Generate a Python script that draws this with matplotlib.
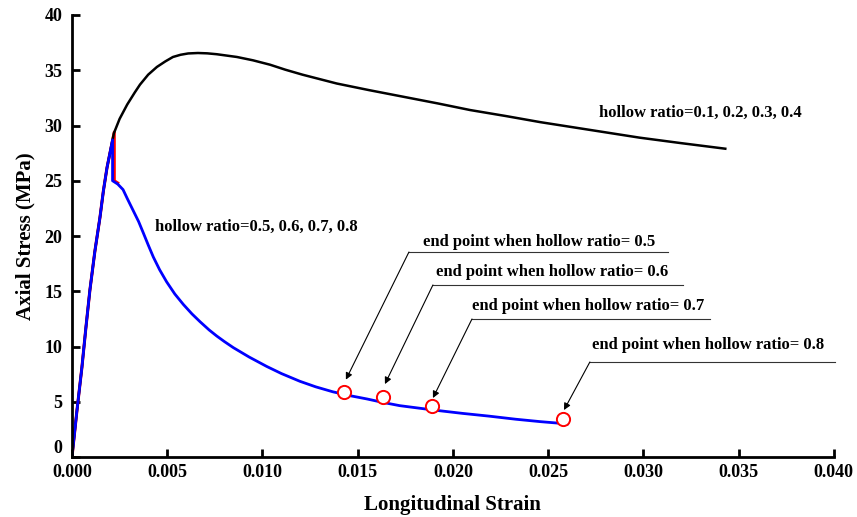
import matplotlib
matplotlib.use('Agg')
import matplotlib.pyplot as plt

# hollow ratio 0.1-0.4 (black)
strain_a = [0, 0.00026, 0.00052, 0.00073, 0.00094, 0.0012, 0.00147, 0.00165, 0.00184,
            0.0022, 0.0025, 0.0029, 0.0033, 0.00357, 0.0040, 0.00446, 0.0049,
            0.0053, 0.0057, 0.0061, 0.00661, 0.0071, 0.0076, 0.00866, 0.0095, 0.0104,
            0.0112, 0.0121, 0.0130, 0.0139, 0.0156, 0.0174, 0.0192, 0.0209, 0.0228,
            0.0246, 0.0272, 0.0298, 0.0320, 0.0343]
stress_a = [0, 4.2, 8.1, 11.7, 15.1, 18.6, 21.7, 24.1, 26.2,
            29.3, 30.6, 31.9, 33.0, 33.7, 34.6, 35.3, 35.8,
            36.2, 36.4, 36.52, 36.56, 36.53, 36.45, 36.2, 35.9, 35.5,
            35.05, 34.6, 34.2, 33.8, 33.2, 32.6, 32.0, 31.4, 30.85,
            30.3, 29.6, 28.9, 28.4, 27.9]

# transition curve (red)
strain_r = [0, 0.00026, 0.00052, 0.00073, 0.00094, 0.0012, 0.00147, 0.00165, 0.00184,
            0.00222, 0.00222, 0.0024]
stress_r = [0, 4.2, 8.1, 11.7, 15.1, 18.6, 21.7, 24.1, 26.2,
            29.4, 25.0, 24.8]

# hollow ratio 0.5-0.8 (blue)
strain_b = [0, 0.00026, 0.00052, 0.00073, 0.00094, 0.0012, 0.00147, 0.00165, 0.00184,
            0.00213, 0.00213, 0.0024, 0.00268, 0.0029, 0.0032, 0.0035, 0.00374, 0.0040,
            0.00427, 0.0046, 0.00497, 0.0054, 0.00585, 0.0063, 0.00672, 0.0072, 0.0076,
            0.0080, 0.00847, 0.0093, 0.01022, 0.0110, 0.01197, 0.0128, 0.0137, 0.0146,
            0.0155, 0.0163, 0.0172, 0.0181, 0.019, 0.0205, 0.0219, 0.0233, 0.0246, 0.026]
stress_b = [0, 4.2, 8.1, 11.7, 15.1, 18.6, 21.7, 24.1, 26.2,
            28.7, 25.0, 24.7, 24.2, 23.4, 22.35, 21.3, 20.3, 19.2,
            18.1, 16.95, 15.85, 14.75, 13.8, 12.95, 12.25, 11.5, 10.95,
            10.45, 9.9, 9.05, 8.2, 7.55, 6.85, 6.35, 5.9, 5.55,
            5.25, 4.95, 4.65, 4.45, 4.25, 3.95, 3.7, 3.42, 3.2, 3.0]

# end points
end_ratio = ['0.5', '0.6', '0.7', '0.8']
end_x = [0.01428, 0.01633, 0.0189, 0.02577]
end_y = [5.9, 5.4, 4.6, 3.45]

# annotation leader lines: arrow tip, elbow, line end, text centre
tip_x = [0.01438, 0.01643, 0.01895, 0.02583]
tip_y = [7.0, 6.6, 5.34, 4.25]
elbow_x = [0.01769, 0.01895, 0.0210, 0.02719]
elbow_y = [18.55, 15.57, 12.49, 8.6]
line_end_x = [0.03129, 0.03207, 0.03349, 0.04005]
text_x = [0.02451, 0.02520, 0.02710, 0.03340]
text_y = [19.5, 16.7, 13.7, 10.1]

plt.rcParams['font.family'] = ['Liberation Serif', 'DejaVu Serif']
plt.rcParams['font.weight'] = 'bold'

fig = plt.figure(figsize=(8.57, 5.17), dpi=100)
ax = fig.add_axes([0.084, 0.116, 0.889, 0.855])

ax.plot(strain_r, stress_r, color='red', lw=2.2)
ax.plot(strain_a, stress_a, color='black', lw=1.8)
ax.plot(strain_b, stress_b, color='blue', lw=2.0)
ax.plot(end_x, end_y, 'o', mfc='white', mec='red', ms=9.5, mew=1.4, zorder=5)

for i in range(4):
    ax.annotate('', xy=(tip_x[i], tip_y[i]), xytext=(elbow_x[i], elbow_y[i]),
                arrowprops=dict(arrowstyle='-|>', color='black', lw=0.8,
                                mutation_scale=10, shrinkA=0, shrinkB=0))
    ax.plot([elbow_x[i], line_end_x[i]], [elbow_y[i], elbow_y[i]], color='#333333',
            lw=0.8, clip_on=False)
    ax.text(text_x[i], text_y[i], 'end point when hollow ratio= ' + end_ratio[i],
            ha='center', va='center', fontsize=12, fontweight='bold')

ax.text(0.03297, 31.1, 'hollow ratio=0.1, 0.2, 0.3, 0.4', ha='center', va='center',
        fontsize=12, fontweight='bold')
ax.text(0.00967, 20.8, 'hollow ratio=0.5, 0.6, 0.7, 0.8', ha='center', va='center',
        fontsize=12, fontweight='bold')

ax.set_xlim(0, 0.040)
ax.set_ylim(0, 40)
ax.set_xticks([0, 0.005, 0.010, 0.015, 0.020, 0.025, 0.030, 0.035, 0.040])
ax.set_xticklabels(['%.3f' % v for v in ax.get_xticks()])
ax.set_yticks(range(0, 41, 5))
ax.spines['top'].set_visible(False)
ax.spines['right'].set_visible(False)
for s in ['left', 'bottom']:
    ax.spines[s].set_linewidth(2)
ax.tick_params(direction='in', length=6, width=2, labelsize=13)
ax.tick_params(axis='y', pad=7)
ax.tick_params(axis='x', pad=5)
for lab in ax.get_xticklabels() + ax.get_yticklabels():
    lab.set_fontweight('bold')
# the "0" on the y axis sits just above the axis line, as in the original
ax.get_yticklabels()[0].set_verticalalignment('bottom')

ax.set_xlabel('Longitudinal Strain', fontsize=15, fontweight='bold', labelpad=10)
ax.set_ylabel('Axial Stress (MPa)', fontsize=15, fontweight='bold', labelpad=6)

fig.savefig('out.png', dpi=100)
